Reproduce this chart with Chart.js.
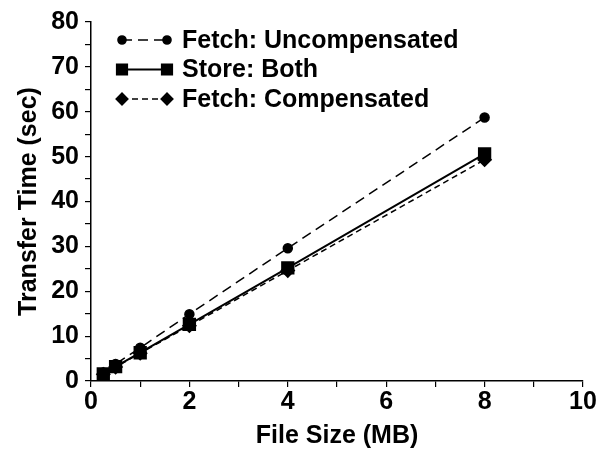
<!DOCTYPE html>
<html>
<head>
<meta charset="utf-8">
<script src="https://cdn.jsdelivr.net/npm/chart.js@4/dist/chart.umd.min.js"></script>
<style>
  body { margin: 0; background: #fff; }
</style>
</head>
<body>
<canvas id="transfer-chart" width="598" height="449"></canvas>
<script>
const fileSizes = [0.25, 0.5, 1, 2, 4, 8];
const fetchUncompensated = [1.9, 3.8, 7.4, 14.9, 29.6, 58.7];
const storeBoth = [1.6, 3.2, 6.3, 12.6, 25.2, 50.6];
const fetchCompensated = [1.5, 3.1, 6.2, 12.3, 24.6, 49.3];
const seriesNames = ['Fetch: Uncompensated', 'Store: Both', 'Fetch: Compensated'];

const FONT = '"Liberation Sans", Arial, sans-serif';
const toPoints = (ys) => fileSizes.map((x, i) => ({ x: x, y: ys[i] }));

// legend drawn by hand: a line sample with a marker at each end, like the original
const lineLegend = {
  id: 'lineLegend',
  afterDraw(chart) {
    const ctx = chart.ctx;
    const area = chart.chartArea;
    ctx.save();
    ctx.font = 'bold 25px ' + FONT;
    ctx.textBaseline = 'middle';
    chart.data.datasets.forEach((ds, i) => {
      const y = area.top + 18 + i * 29.5;
      const x1 = area.left + 31;
      const x2 = area.left + 76;
      ctx.strokeStyle = '#000';
      ctx.fillStyle = '#000';
      ctx.lineWidth = ds.borderWidth;
      ctx.setLineDash(ds.borderDash || []);
      ctx.beginPath();
      ctx.moveTo(x1, y);
      ctx.lineTo(x2, y);
      ctx.stroke();
      ctx.setLineDash([]);
      const pt = { pointStyle: ds.pointStyle, radius: ds.pointRadius * 0.9, rotation: 0, borderWidth: 1 };
      Chart.helpers.drawPoint(ctx, pt, x1, y);
      Chart.helpers.drawPoint(ctx, pt, x2, y);
      ctx.fillText(ds.label, area.left + 91, y + 1);
    });
    ctx.restore();
  }
};

new Chart(document.getElementById('transfer-chart').getContext('2d'), {
  type: 'scatter',
  plugins: [lineLegend],
  data: {
    datasets: [
      {
        label: seriesNames[0],
        data: toPoints(fetchUncompensated),
        showLine: true,
        borderColor: '#000',
        backgroundColor: '#000',
        borderWidth: 1.5,
        borderDash: [10, 6],
        pointStyle: 'circle',
        pointRadius: 4.5
      },
      {
        label: seriesNames[1],
        data: toPoints(storeBoth),
        showLine: true,
        borderColor: '#000',
        backgroundColor: '#000',
        borderWidth: 2,
        pointStyle: 'rect',
        pointRadius: 8
      },
      {
        label: seriesNames[2],
        data: toPoints(fetchCompensated),
        showLine: true,
        borderColor: '#000',
        backgroundColor: '#000',
        borderWidth: 1.5,
        borderDash: [6, 4],
        pointStyle: 'rectRot',
        pointRadius: 6.5
      }
    ]
  },
  options: {
    responsive: false,
    animation: false,
    layout: { padding: { top: 22, right: 15, bottom: 0, left: 0 } },
    scales: {
      x: {
        type: 'linear',
        min: 0,
        max: 10,
        afterFit(scale) { scale.height = 68; },
        border: { color: '#000', width: 1.5 },
        grid: { drawOnChartArea: false, drawTicks: true, tickLength: 6, color: '#000', lineWidth: 1.2 },
        ticks: {
          stepSize: 1,
          color: '#000',
          padding: 0,
          maxRotation: 0,
          autoSkip: false,
          font: { family: FONT, size: 25, weight: 'bold' },
          callback: (v) => (v % 2 === 0 ? v : '')
        },
        title: {
          display: true,
          text: 'File Size (MB)',
          color: '#000',
          padding: 0,
          font: { family: FONT, size: 25, weight: 'bold', lineHeight: 1 }
        }
      },
      y: {
        type: 'linear',
        min: 0,
        max: 80,
        afterFit(scale) { scale.width = 91; },
        border: { color: '#000', width: 1.5 },
        grid: { drawOnChartArea: false, drawTicks: true, tickLength: 6, color: '#000', lineWidth: 1.2 },
        ticks: {
          stepSize: 5,
          color: '#000',
          padding: 6,
          autoSkip: false,
          font: { family: FONT, size: 25, weight: 'bold' },
          callback: (v) => (v % 10 === 0 ? v : '')
        },
        title: {
          display: true,
          text: 'Transfer Time (sec)',
          color: '#000',
          padding: { top: 14, bottom: 0 },
          font: { family: FONT, size: 25, weight: 'bold' }
        }
      }
    },
    plugins: {
      legend: { display: false },
      tooltip: { enabled: false }
    }
  }
});
</script>
</body>
</html>
